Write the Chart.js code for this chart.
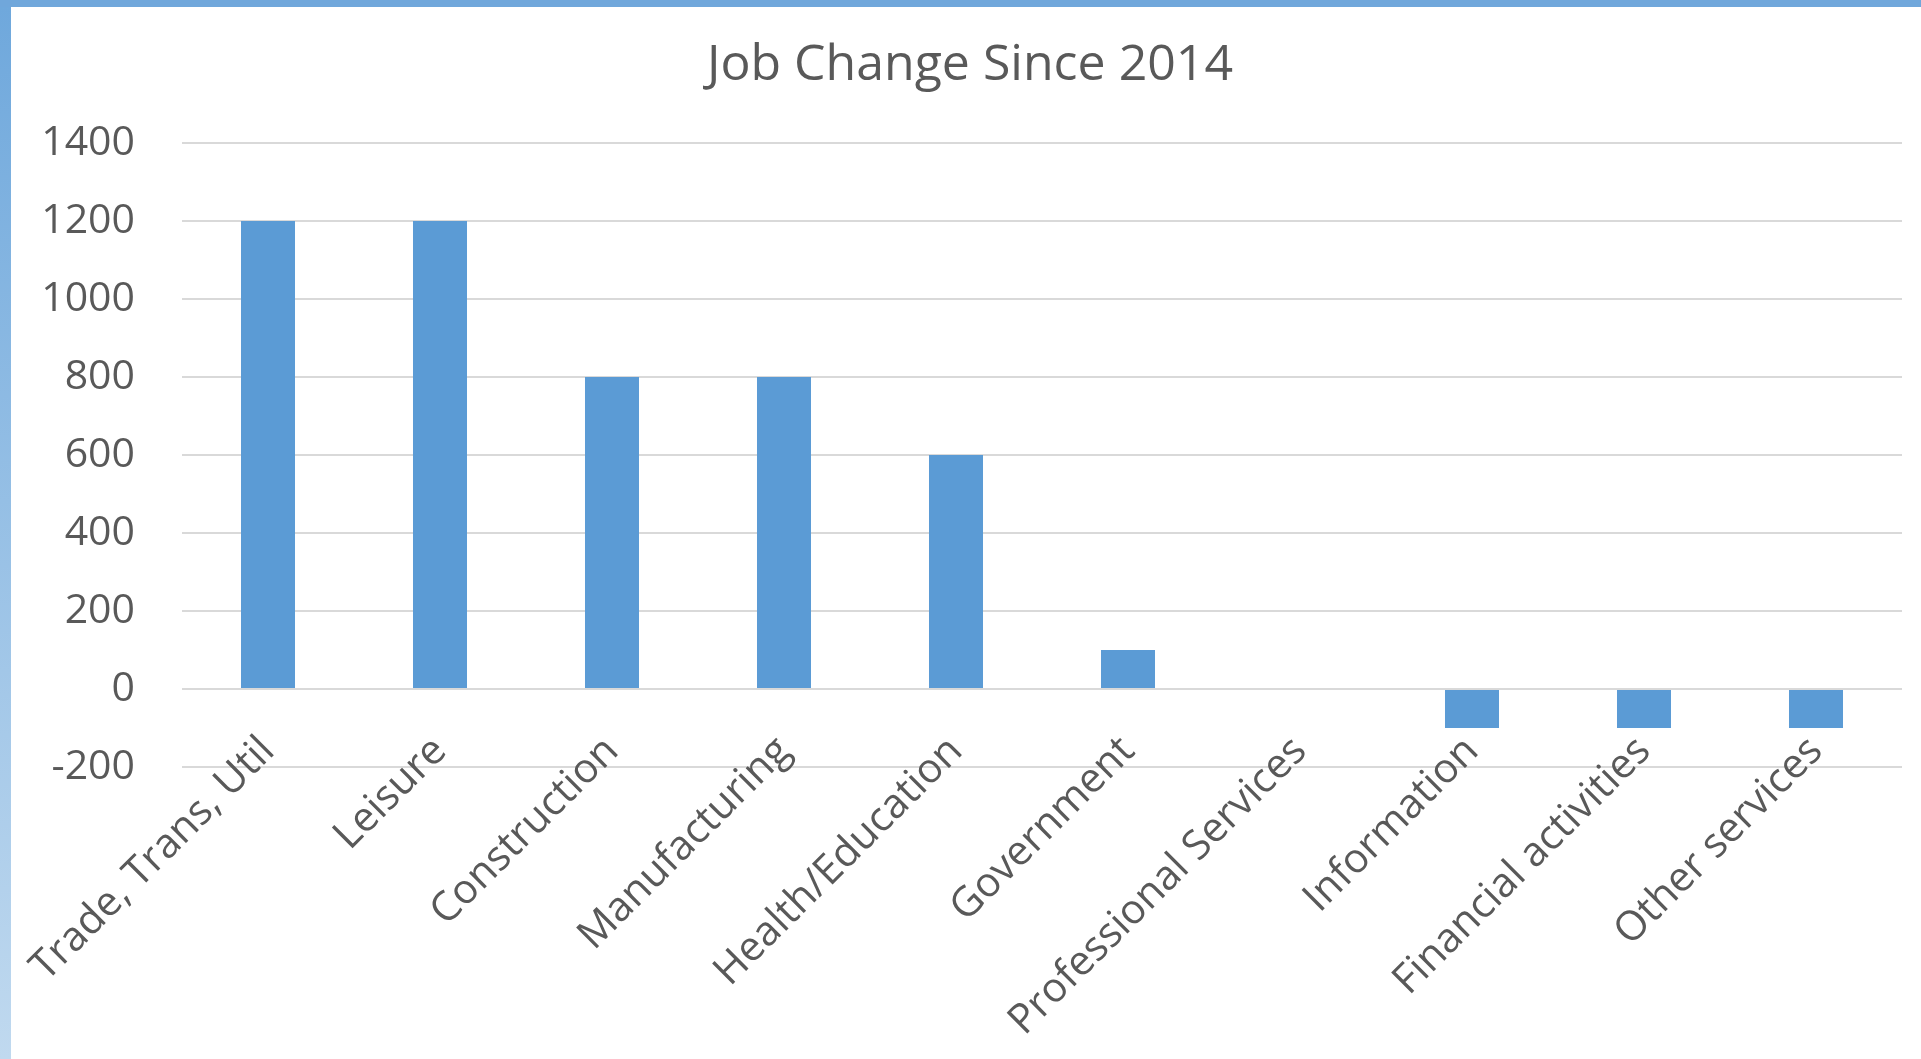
<!DOCTYPE html>
<html>
<head>
<meta charset="utf-8">
<title>Job Change Since 2014</title>
<script src="https://cdn.jsdelivr.net/npm/chart.js@4.4.0/dist/chart.umd.min.js"></script>
<style>
  html, body { margin: 0; padding: 0; background: #fff; overflow: hidden; }
  #frame {
    position: absolute; left: 0; top: 0; width: 1921px; height: 1059px;
    border-top: 7px solid #70a7db;
    box-sizing: border-box;
  }
  #edge {
    position: absolute; left: 0; top: 7px; width: 11px; height: 1052px;
    background: linear-gradient(to bottom, #6fa8dc, #c0d9ef);
  }
  #jobChart { position: absolute; left: 11px; top: 7px; }
</style>
</head>
<body>
<div id="frame"></div>
<div id="edge"></div>
<canvas id="jobChart" width="1910" height="1052"></canvas>
<script>
// data
const sectors = [
  'Trade, Trans, Util',
  'Leisure',
  'Construction',
  'Manufacturing',
  'Health/Education',
  'Government',
  'Professional Services',
  'Information',
  'Financial activities',
  'Other services'
];
const jobChange = [1200, 1200, 800, 800, 600, 100, 0, -100, -100, -100];
const yMin = -200;
const yMax = 1400;
const yStep = 200;

const textColor = '#595959';
const font = 'Open Sans';

const ctx = document.getElementById('jobChart').getContext('2d');

const chart = new Chart(ctx, {
  type: 'bar',
  data: {
    labels: sectors,
    datasets: [
      {
        label: 'Job Change',
        data: jobChange,
        backgroundColor: '#5b9bd5',
        borderWidth: 0,
        categoryPercentage: 1,
        barPercentage: 0.314,
      },
    ],
  },
  options: {
    responsive: false,
    animation: false,
    devicePixelRatio: 1,
    layout: { padding: { left: 27, right: 19, top: 0, bottom: 292 } },
    plugins: {
      legend: { display: false },
      tooltip: { enabled: false },
      title: {
        display: true,
        text: 'Job Change Since 2014',
        color: textColor,
        font: { family: font, size: 50, weight: 'normal' },
        padding: { top: 29, bottom: 47 }
      }
    },
    scales: {
      x: {
        type: 'category',
        position: { y: 0 },
        grid: { display: false, drawTicks: false },
        border: { display: false },
        ticks: {
          autoSkip: false,
          minRotation: 45,
          maxRotation: 45,
          padding: 38,
          color: textColor,
          font: { family: font, size: 41 }
        },
        // rotated labels may hang past the plot edge, don't let them squeeze it
        afterFit: (scale) => { scale.paddingLeft = 0; scale.paddingRight = 0; }
      },
      y: {
        min: yMin,
        max: yMax,
        grid: { color: '#d9d9d9', lineWidth: 2, drawTicks: false },
        border: { display: false },
        ticks: {
          stepSize: yStep,
          padding: 47,
          color: textColor,
          font: { family: font, size: 41 },
          callback: (v) => String(v)
        },
        afterFit: (scale) => { scale.width = 144; }
      }
    }
  }
});
</script>
</body>
</html>
